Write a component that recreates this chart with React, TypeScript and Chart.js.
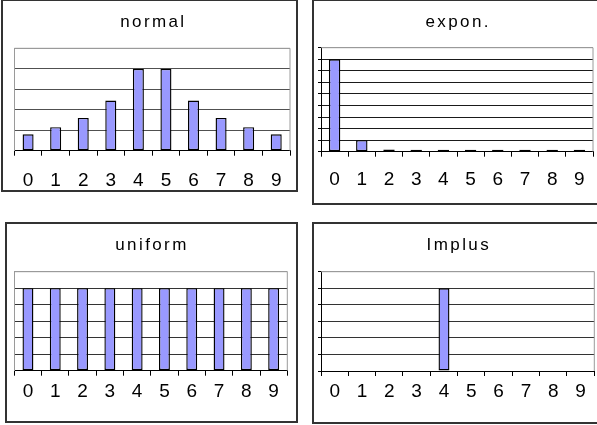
import React, { useEffect, useRef } from "react";
import { Chart, registerables } from "chart.js";

Chart.register(...registerables);

// ---- data ----
const categories = ["0", "1", "2", "3", "4", "5", "6", "7", "8", "9"];
const normalValues = [0.8, 1.15, 1.6, 2.45, 4, 4, 2.45, 1.6, 1.15, 0.8];
const exponValues = [8, 1, 0.2, 0.03, 0.03, 0.03, 0.03, 0.03, 0.03, 0.03];
const uniformValues = [5, 5, 5, 5, 5, 5, 5, 5, 5, 5];
const impulsValues = [0, 0, 0, 0, 5, 0, 0, 0, 0, 0];
const panelTitles = ["normal", "expon.", "uniform", "Implus"];
const yMaxes = [5, 9, 6, 6];

const W = 597;
const H = 425;
const FONT = "Arial, 'Liberation Sans', Helvetica, sans-serif";

type PanelCfg = {
  title: string;
  values: number[];
  yMax: number;
  area: { l: number; t: number; r: number; b: number };
  titleBaseline: number;
  labelPad: number;
  yTicks: boolean;
  minBar: number;
  barPct: number;
  gridColor: string;
};

const panels: PanelCfg[] = [
  {
    title: panelTitles[0], values: normalValues, yMax: yMaxes[0],
    area: { l: 14.3, t: 48.3, r: 290, b: 150.7 }, titleBaseline: 27,
    labelPad: 13.2, yTicks: false, minBar: 0, barPct: 0.4, gridColor: "#505050",
  },
  {
    title: panelTitles[1], values: exponValues, yMax: yMaxes[1],
    area: { l: 321, t: 47.7, r: 593, b: 151.7 }, titleBaseline: 27,
    labelPad: 11.9, yTicks: true, minBar: 2, barPct: 0.42, gridColor: "#1a1a1a",
  },
  {
    title: panelTitles[2], values: uniformValues, yMax: yMaxes[2],
    area: { l: 14.3, t: 271.7, r: 287.3, b: 370.7 }, titleBaseline: 249.5,
    labelPad: 4.6, yTicks: false, minBar: 0, barPct: 0.4, gridColor: "#333333",
  },
  {
    title: panelTitles[3], values: impulsValues, yMax: yMaxes[3],
    area: { l: 321, t: 271.7, r: 594.3, b: 371 }, titleBaseline: 250,
    labelPad: 4.3, yTicks: true, minBar: 0, barPct: 0.4, gridColor: "#333333",
  },
];

const frames = [
  { left: 1, top: -1, width: 297, height: 193 },
  { left: 312, top: -1, width: 300, height: 206 },
  { left: 5, top: 222, width: 293, height: 201 },
  { left: 312, top: 222, width: 300, height: 202 },
];

const X_AXIS_H = 40;

function Panel({ cfg }: { cfg: PanelCfg }) {
  const ref = useRef<HTMLCanvasElement | null>(null);
  useEffect(() => {
    if (!ref.current) return;
    const a = cfg.area;
    const decor = {
      id: "panelDecor",
      beforeDatasetsDraw(chart: any) {
        const ca = chart.chartArea;
        const ctx = chart.ctx;
        ctx.save();
        ctx.strokeStyle = "#9a9a9a";
        ctx.lineWidth = 1;
        ctx.beginPath();
        ctx.moveTo(ca.left, ca.top);
        ctx.lineTo(ca.right, ca.top);
        ctx.lineTo(ca.right, ca.bottom);
        ctx.stroke();
        ctx.restore();
      },
      afterDraw(chart: any) {
        const ca = chart.chartArea;
        const ctx = chart.ctx;
        ctx.save();
        ctx.font = `17px ${FONT}`;
        ctx.fillStyle = "#000";
        ctx.textAlign = "left";
        ctx.textBaseline = "alphabetic";
        const sp = 2.4;
        (ctx as any).letterSpacing = sp + "px";
        const w = ctx.measureText(cfg.title).width - sp;
        const cx = (ca.left + ca.right) / 2;
        ctx.fillText(cfg.title, cx - w / 2, cfg.titleBaseline);
        ctx.restore();
      },
    };
    const chart = new Chart(ref.current, {
      type: "bar",
      data: {
        labels: categories,
        datasets: [
          {
            data: cfg.values,
            backgroundColor: "#9999ff",
            borderColor: "#000000",
            borderWidth: 1.4,
            borderSkipped: false,
            barPercentage: cfg.barPct,
            categoryPercentage: 1,
            minBarLength: cfg.minBar,
          },
        ],
      },
      options: {
        animation: false,
        responsive: false,
        events: [],
        layout: {
          padding: {
            left: a.l,
            top: a.t,
            right: W - a.r,
            bottom: H - a.b - X_AXIS_H,
          },
        },
        plugins: {
          legend: { display: false },
          tooltip: { enabled: false },
          title: { display: false },
        },
        scales: {
          x: {
            type: "category",
            offset: true,
            afterFit: (s: any) => {
              s.height = X_AXIS_H;
            },
            grid: {
              display: true,
              offset: true,
              drawOnChartArea: false,
              drawTicks: true,
              tickLength: 5,
              tickColor: "#000",
              tickWidth: 1,
            },
            border: { display: true, color: "#000", width: 1 },
            ticks: {
              color: "#000",
              font: { family: FONT, size: 19 },
              padding: cfg.labelPad,
              maxRotation: 0,
              autoSkip: false,
            },
          },
          y: {
            min: 0,
            max: cfg.yMax,
            afterFit: (s: any) => {
              s.width = 0;
            },
            ticks: { display: false, stepSize: 1 },
            grid: {
              color: (c: any) =>
                c.tick && c.tick.value === cfg.yMax ? "#9a9a9a" : cfg.gridColor,
              lineWidth: 1,
              drawTicks: cfg.yTicks,
              tickLength: 3,
              tickColor: "#000",
            },
            border: {
              display: true,
              color: cfg.yTicks ? "#000" : "#9a9a9a",
              width: 1,
            },
          },
        },
      },
      plugins: [decor],
    } as any);
    return () => chart.destroy();
  }, [cfg]);
  return (
    <canvas
      ref={ref}
      width={W}
      height={H}
      style={{ position: "absolute", left: 0, top: 0, width: W, height: H }}
    />
  );
}

export default function App() {
  return (
    <div
      style={{
        position: "fixed",
        left: 0,
        top: 0,
        width: W,
        height: H,
        overflow: "hidden",
        background: "#fff",
      }}
    >
      {frames.map((f, i) => (
        <div
          key={"f" + i}
          style={{
            position: "absolute",
            left: f.left,
            top: f.top,
            width: f.width,
            height: f.height,
            boxSizing: "border-box",
            border: "2px solid #333",
          }}
        />
      ))}
      {panels.map((p, i) => (
        <Panel key={i} cfg={p} />
      ))}
    </div>
  );
}
